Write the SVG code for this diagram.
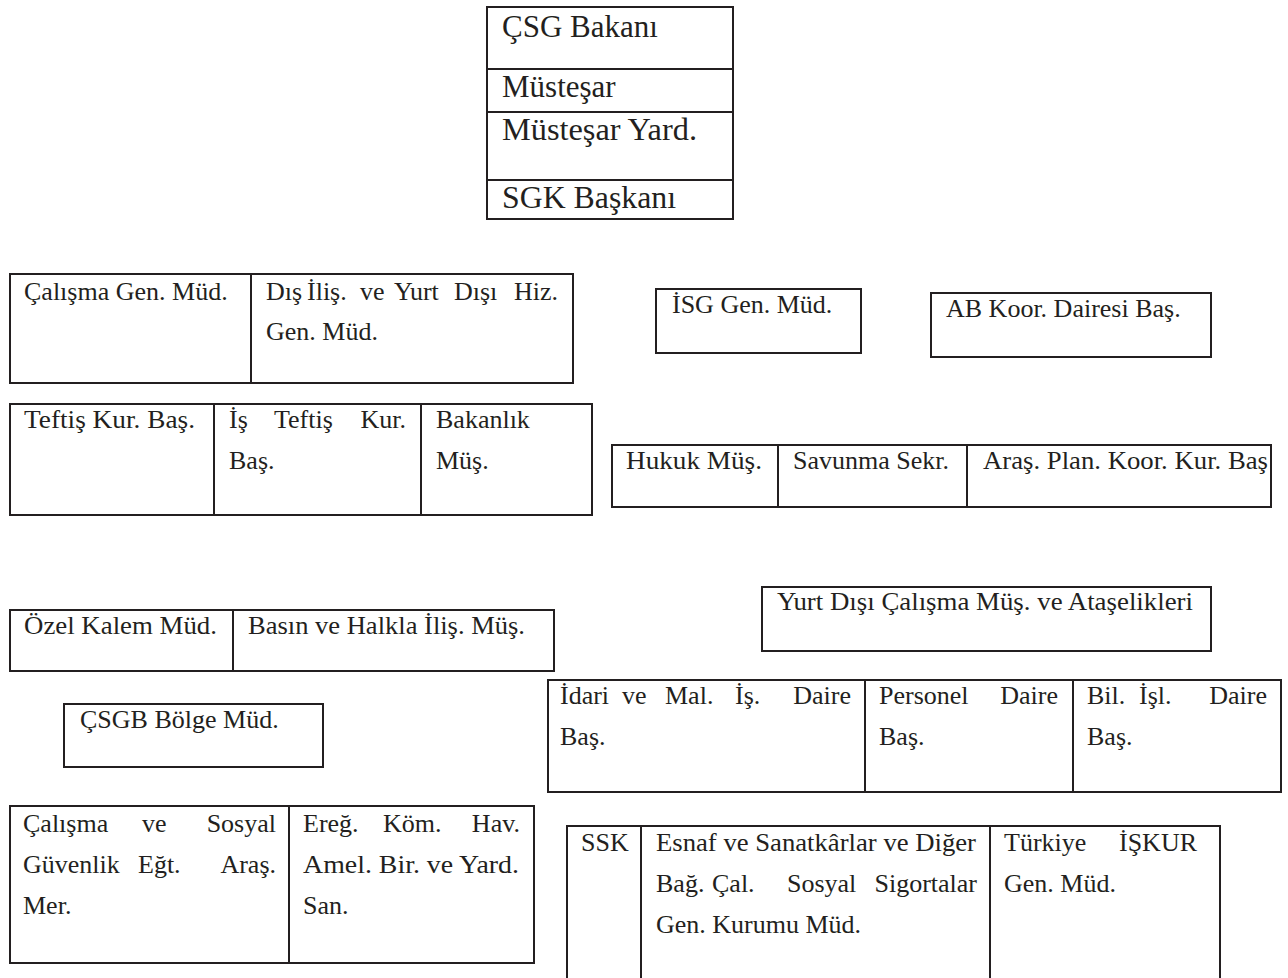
<svg xmlns="http://www.w3.org/2000/svg" width="1288" height="978" viewBox="0 0 1288 978">
<rect width="1288" height="978" fill="#ffffff"/>
<g id="connectors"></g>
<g id="top">
<g fill="none" stroke="#231f20" stroke-width="2">
<rect x="487" y="7" width="246" height="212"/>
<line x1="487" y1="69" x2="733" y2="69"/>
<line x1="487" y1="112" x2="733" y2="112"/>
<line x1="487" y1="180" x2="733" y2="180"/>
</g>
<g font-family="Liberation Serif" font-size="31" fill="#231f20">
<text x="502" y="37">ÇSG Bakanı</text>
<text x="502" y="97">Müsteşar</text>
<text x="502" y="140" textLength="195" lengthAdjust="spacingAndGlyphs">Müsteşar Yard.</text>
<text x="502" y="208" textLength="174" lengthAdjust="spacingAndGlyphs">SGK Başkanı</text>
</g>
</g>
<g id="row1">
<g fill="none" stroke="#231f20" stroke-width="2">
<rect x="10" y="274" width="563" height="109"/>
<line x1="251" y1="274" x2="251" y2="383"/>
</g>
<g font-family="Liberation Serif" font-size="26" fill="#231f20">
<text x="24" y="300">Çalışma Gen. Müd.</text>
<text y="300"><tspan x="266">Dış</tspan><tspan x="307">İliş.</tspan><tspan x="360">ve</tspan><tspan x="394">Yurt</tspan><tspan x="454">Dışı</tspan><tspan x="558" text-anchor="end">Hiz.</tspan></text>
<text x="266" y="340">Gen. Müd.</text>
</g>
</g>
<g id="isg">
<rect x="656" y="289" width="205" height="64" fill="none" stroke="#231f20" stroke-width="2"/>
<text font-family="Liberation Serif" font-size="26" fill="#231f20" x="672" y="313">İSG Gen. Müd.</text>
</g>
<g id="ab">
<rect x="931" y="293" width="280" height="64" fill="none" stroke="#231f20" stroke-width="2"/>
<text font-family="Liberation Serif" font-size="26" fill="#231f20" x="946" y="317">AB Koor. Dairesi Baş.</text>
</g>
<g id="row2">
<g fill="none" stroke="#231f20" stroke-width="2">
<rect x="10" y="404" width="582" height="111"/>
<line x1="214" y1="404" x2="214" y2="515"/>
<line x1="421" y1="404" x2="421" y2="515"/>
</g>
<g font-family="Liberation Serif" font-size="26" fill="#231f20">
<text x="24" y="428" textLength="171" lengthAdjust="spacingAndGlyphs">Teftiş Kur. Baş.</text>
<text y="428"><tspan x="229">İş</tspan><tspan x="274">Teftiş</tspan><tspan x="406" text-anchor="end">Kur.</tspan></text>
<text x="229" y="469">Baş.</text>
<text x="436" y="428">Bakanlık</text>
<text x="436" y="469">Müş.</text>
</g>
</g>
<g id="hukuk">
<g fill="none" stroke="#231f20" stroke-width="2">
<rect x="612" y="445" width="659" height="62"/>
<line x1="778" y1="445" x2="778" y2="507"/>
<line x1="967" y1="445" x2="967" y2="507"/>
</g>
<g font-family="Liberation Serif" font-size="26" fill="#231f20">
<text x="626" y="469" textLength="136" lengthAdjust="spacingAndGlyphs">Hukuk Müş.</text>
<text x="793" y="469">Savunma Sekr.</text>
<text x="983" y="469" textLength="285" lengthAdjust="spacingAndGlyphs">Araş. Plan. Koor. Kur. Baş</text>
</g>
</g>
<g id="ozel">
<g fill="none" stroke="#231f20" stroke-width="2">
<rect x="10" y="610" width="544" height="61"/>
<line x1="233" y1="610" x2="233" y2="671"/>
</g>
<g font-family="Liberation Serif" font-size="26" fill="#231f20">
<text x="24" y="634" textLength="193" lengthAdjust="spacingAndGlyphs">Özel Kalem Müd.</text>
<text x="248" y="634" textLength="277" lengthAdjust="spacingAndGlyphs">Basın ve Halkla İliş. Müş.</text>
</g>
</g>
<g id="yurtdisi">
<rect x="762" y="587" width="449" height="64" fill="none" stroke="#231f20" stroke-width="2"/>
<text font-family="Liberation Serif" font-size="26" fill="#231f20" x="777" y="610" textLength="416" lengthAdjust="spacingAndGlyphs">Yurt Dışı Çalışma Müş. ve Ataşelikleri</text>
</g>
<g id="bolge">
<rect x="64" y="704" width="259" height="63" fill="none" stroke="#231f20" stroke-width="2"/>
<text font-family="Liberation Serif" font-size="26" fill="#231f20" x="80" y="728">ÇSGB Bölge Müd.</text>
</g>
<g id="idari">
<g fill="none" stroke="#231f20" stroke-width="2">
<rect x="548" y="680" width="733" height="112"/>
<line x1="865" y1="680" x2="865" y2="792"/>
<line x1="1073" y1="680" x2="1073" y2="792"/>
</g>
<g font-family="Liberation Serif" font-size="26" fill="#231f20">
<text y="704"><tspan x="560">İdari</tspan><tspan x="622">ve</tspan><tspan x="665">Mal.</tspan><tspan x="735">İş.</tspan><tspan x="851" text-anchor="end">Daire</tspan></text>
<text x="560" y="745">Baş.</text>
<text y="704"><tspan x="879">Personel</tspan><tspan x="1058" text-anchor="end">Daire</tspan></text>
<text x="879" y="745">Baş.</text>
<text y="704"><tspan x="1087">Bil.</tspan><tspan x="1139">İşl.</tspan><tspan x="1267" text-anchor="end">Daire</tspan></text>
<text x="1087" y="745">Baş.</text>
</g>
</g>
<g id="egitim">
<g fill="none" stroke="#231f20" stroke-width="2">
<rect x="10" y="806" width="524" height="157"/>
<line x1="289" y1="806" x2="289" y2="963"/>
</g>
<g font-family="Liberation Serif" font-size="26" fill="#231f20">
<text y="832"><tspan x="23">Çalışma</tspan><tspan x="142">ve</tspan><tspan x="276" text-anchor="end">Sosyal</tspan></text>
<text y="873"><tspan x="23">Güvenlik</tspan><tspan x="138">Eğt.</tspan><tspan x="276" text-anchor="end">Araş.</tspan></text>
<text x="23" y="914">Mer.</text>
<text y="832"><tspan x="303">Ereğ.</tspan><tspan x="383">Köm.</tspan><tspan x="520" text-anchor="end">Hav.</tspan></text>
<text x="303" y="873" textLength="216" lengthAdjust="spacingAndGlyphs">Amel. Bir. ve Yard.</text>
<text x="303" y="914">San.</text>
</g>
</g>
<g id="ssk">
<g fill="none" stroke="#231f20" stroke-width="2">
<rect x="567" y="826" width="653" height="170"/>
<line x1="641" y1="826" x2="641" y2="996"/>
<line x1="990" y1="826" x2="990" y2="996"/>
</g>
<g font-family="Liberation Serif" font-size="26" fill="#231f20">
<text x="581" y="851">SSK</text>
<text x="656" y="851" textLength="320" lengthAdjust="spacingAndGlyphs">Esnaf ve Sanatkârlar ve Diğer</text>
<text y="892"><tspan x="656">Bağ.</tspan><tspan x="712">Çal.</tspan><tspan x="787">Sosyal</tspan><tspan x="977" text-anchor="end">Sigortalar</tspan></text>
<text x="656" y="933">Gen. Kurumu Müd.</text>
<text y="851"><tspan x="1004">Türkiye</tspan><tspan x="1197" text-anchor="end">İŞKUR</tspan></text>
<text x="1004" y="892">Gen. Müd.</text>
</g>
</g>
</svg>
